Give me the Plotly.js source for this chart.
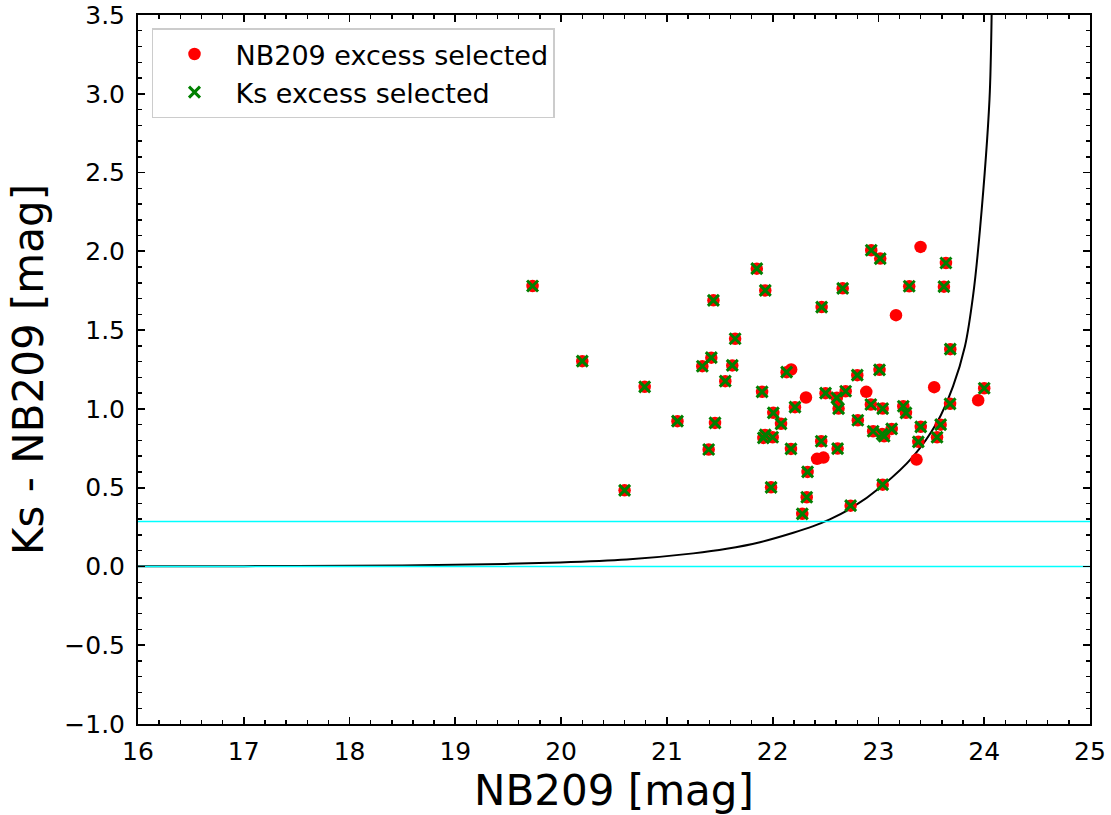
<!DOCTYPE html>
<html>
<head>
<meta charset="utf-8">
<script src="https://cdn.plot.ly/plotly-3.0.1.min.js"></script>
<style>html,body{margin:0;padding:0;background:#fff;}#chart{width:1111px;height:815px;}</style>
</head>
<body>
<div id="chart"></div>
<script>
// NB209 magnitudes and Ks - NB209 colours of all NB209-excess selected objects
const nbMag = [19.73, 20.20, 20.79, 21.10, 20.60, 21.44, 21.85, 21.93, 21.645, 21.42,
  21.335, 21.618, 21.552, 22.132, 22.175, 21.90, 22.211, 22.006, 22.079, 21.455,
  21.912, 22.00, 21.93, 22.173, 21.395, 21.985, 22.28, 22.463, 22.315, 22.50,
  22.459, 22.42, 22.48, 22.33, 22.322, 22.932, 23.017, 23.398, 23.638, 23.291,
  23.619, 22.662, 23.166, 23.679, 22.80, 23.01, 22.69, 22.607, 22.885, 23.527,
  24.00, 23.943, 22.623, 22.928, 23.04, 23.235, 23.26, 23.677, 22.805, 23.40,
  23.588, 22.95, 23.054, 23.125, 23.035, 23.377, 23.554, 22.614, 23.36, 23.04,
  22.737];
const ksNbColor = [1.78, 1.303, 1.14, 0.922, 0.483, 1.689, 1.89, 1.752, 1.445, 1.325,
  1.271, 1.276, 1.176, 1.233, 1.25, 1.108, 1.011, 0.975, 0.905, 0.911,
  0.816, 0.82, 0.835, 0.746, 0.742, 0.502, 0.334, 1.646, 1.072, 1.10,
  0.795, 0.683, 0.691, 0.600, 0.439, 2.007, 1.954, 2.028, 1.926, 1.778,
  1.776, 1.765, 1.595, 1.379, 1.214, 1.248, 1.112, 1.070, 1.108, 1.138,
  1.131, 1.055, 1.002, 1.028, 1.002, 1.017, 0.975, 1.032, 0.928, 0.886,
  0.900, 0.858, 0.826, 0.873, 0.84, 0.791, 0.820, 0.748, 0.678, 0.519,
  0.386];
// 1 = also Ks-excess selected, 0 = NB209 excess only
const ksSelected = [1, 1, 1, 1, 1, 1, 1, 1, 1, 1,
  1, 1, 1, 1, 0, 1, 1, 1, 1, 1,
  1, 1, 1, 1, 1, 1, 1, 1, 0, 1,
  1, 0, 0, 1, 1, 1, 1, 0, 1, 1,
  1, 1, 0, 1, 1, 1, 1, 1, 0, 0,
  1, 0, 1, 1, 1, 1, 1, 1, 1, 1,
  1, 1, 1, 1, 1, 1, 1, 1, 0, 1,
  1];

// limiting curve
const curveX = [16, 17, 18, 19, 19.99, 20.62, 21.25, 21.565, 21.88, 22.195, 22.384, 22.54,
  22.731, 23.043, 23.327, 23.553, 23.705, 23.818, 23.894, 23.96, 24.05, 24.07];
const curveY = [0.001, 0.002, 0.004, 0.010, 0.025, 0.044, 0.083, 0.112, 0.154, 0.214, 0.256, 0.299,
  0.365, 0.516, 0.697, 0.913, 1.143, 1.397, 1.715, 2.14, 2.966, 3.5];

// horizontal reference lines
const hlineY = [0.0, 0.286];
const xRange = [16, 25];
const yRange = [-1.0, 3.5];

const xTicks = [16, 17, 18, 19, 20, 21, 22, 23, 24, 25];
const yTicks = [-1.0, -0.5, 0.0, 0.5, 1.0, 1.5, 2.0, 2.5, 3.0, 3.5];
const yTickText = ["\u22121.0", "\u22120.5", "0.0", "0.5", "1.0", "1.5", "2.0", "2.5", "3.0", "3.5"];

const ksX = nbMag.filter((v, i) => ksSelected[i] === 1);
const ksY = ksNbColor.filter((v, i) => ksSelected[i] === 1);

const FONT = "DejaVu Sans, Liberation Sans, sans-serif";

const traces = [
  {x: curveX, y: curveY, type: 'scatter', mode: 'lines', line: {color: 'black', width: 2, shape: 'spline', smoothing: 0.8},
   showlegend: false, hoverinfo: 'skip'},
  {x: xRange, y: [hlineY[0], hlineY[0]], type: 'scatter', mode: 'lines', line: {color: '#00ffff', width: 1.5}, showlegend: false},
  {x: xRange, y: [hlineY[1], hlineY[1]], type: 'scatter', mode: 'lines', line: {color: '#00ffff', width: 1.5}, showlegend: false},
  {x: nbMag, y: ksNbColor, type: 'scatter', mode: 'markers', name: 'NB209 excess selected',
   marker: {color: '#ff0000', size: 12.5, symbol: 'circle', line: {width: 0}}},
  {x: ksX, y: ksY, type: 'scatter', mode: 'markers', name: 'Ks excess selected',
   marker: {color: '#008000', size: 11, symbol: 'x-thin', line: {color: '#008000', width: 3}}}
];

const axisCommon = {
  showline: true, linecolor: 'black', linewidth: 2, mirror: 'ticks',
  ticks: 'inside', ticklen: 7, tickwidth: 1.7, tickcolor: 'black',
  showgrid: false, zeroline: false,
  tickfont: {family: FONT, size: 25, color: 'black'}
};

const layout = {
  width: 1111, height: 815,
  margin: {l: 138, r: 21, t: 15, b: 91, pad: 0},
  paper_bgcolor: 'white', plot_bgcolor: 'white',
  font: {family: FONT, color: 'black'},
  xaxis: Object.assign({}, axisCommon, {
    range: xRange, tickmode: 'array', tickvals: xTicks, ticktext: xTicks.map(String),
    minor: {ticks: 'inside', dtick: 0.2, ticklen: 4, tickwidth: 1.4, tickcolor: 'black', showgrid: false},
    ticklabelstandoff: 4,
    title: {text: 'NB209 [mag]', font: {family: FONT, size: 42, color: 'black'}, standoff: 6}
  }),
  yaxis: Object.assign({}, axisCommon, {
    range: yRange, tickmode: 'array', tickvals: yTicks, ticktext: yTickText,
    minor: {ticks: 'inside', dtick: 0.1, ticklen: 4, tickwidth: 1.4, tickcolor: 'black', showgrid: false},
    ticklabelstandoff: 6,
    title: {text: 'Ks - NB209 [mag]', font: {family: FONT, size: 42, color: 'black'}, standoff: 8}
  }),
  legend: {
    x: 0.0147, y: 0.981, xanchor: 'left', yanchor: 'top',
    bgcolor: 'rgba(255,255,255,0.8)', bordercolor: '#cccccc', borderwidth: 1.5,
    font: {family: FONT, size: 27, color: 'black'},
    itemwidth: 72, tracegroupgap: 0
  },
  showlegend: true
};

Plotly.newPlot('chart', traces, layout, {staticPlot: true, displayModeBar: false});
</script>
</body>
</html>
